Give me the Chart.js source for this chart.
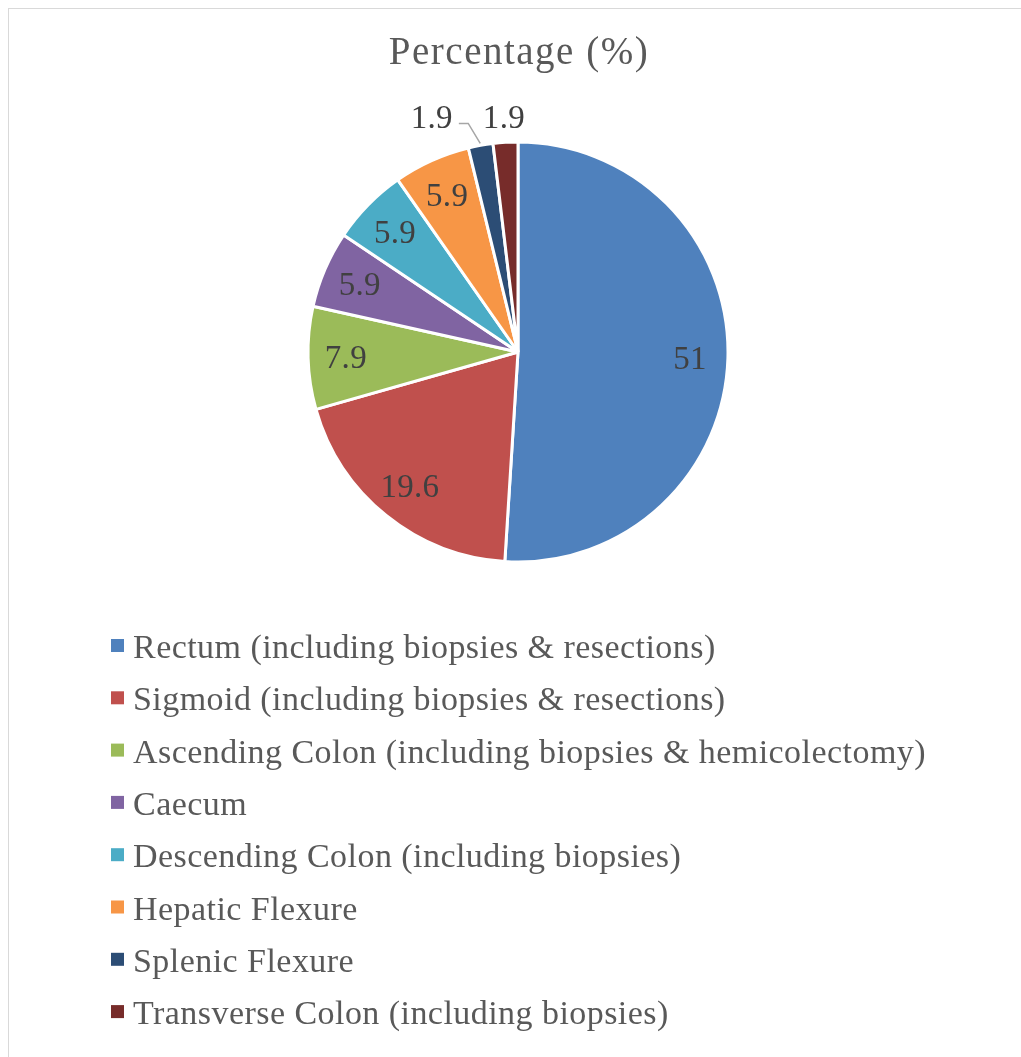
<!DOCTYPE html>
<html>
<head>
<meta charset="utf-8">
<title>Percentage (%)</title>
<script src="https://cdn.jsdelivr.net/npm/chart.js@4.4.1/dist/chart.umd.min.js"></script>
<style>
  html, body { margin: 0; padding: 0; background: #fff; }
  #wrap { position: relative; width: 1021px; height: 1057px; overflow: hidden; }
  #frame { position: absolute; left: 8px; top: 8px; width: 1100px; height: 1100px;
           border: 1.5px solid #d9d9d9; box-sizing: border-box; }
  #pie { position: absolute; left: 0; top: 0; }
</style>
</head>
<body>
<div id="wrap">
  <div id="frame"></div>
  <canvas id="pie" width="1021" height="1057"></canvas>
</div>
<script>
  // site of lesion, share of cases
  var sites = [
    'Rectum (including biopsies & resections)',
    'Sigmoid (including biopsies & resections)',
    'Ascending Colon (including biopsies & hemicolectomy)',
    'Caecum',
    'Descending Colon (including biopsies)',
    'Hepatic Flexure',
    'Splenic Flexure',
    'Transverse Colon (including biopsies)'
  ];
  var percents = [51, 19.6, 7.9, 5.9, 5.9, 5.9, 1.9, 1.9];
  var sliceColors = ['#4f81bd', '#c0504d', '#9bbb59', '#8064a2', '#4bacc6', '#f79646', '#2c4d75', '#772c2a'];

  var serif = "'Liberation Serif', 'Times New Roman', serif";
  var textGrey = '#595959';
  var labelGrey = '#404040';

  function spaced(ctx, px) {
    if ('letterSpacing' in ctx) ctx.letterSpacing = px + 'px';
  }

  // title, value labels and the legend list are drawn by hand
  var decorations = {
    id: 'decorations',
    afterDatasetsDraw: function(chart) {
      var ctx = chart.ctx;
      var meta = chart.getDatasetMeta(0);
      var ds = chart.data.datasets[0];

      ctx.save();
      ctx.textBaseline = 'alphabetic';
      ctx.fillStyle = textGrey;
      ctx.font = '39px ' + serif;
      spaced(ctx, 1.5);
      ctx.textAlign = 'center';
      ctx.fillText('Percentage (%)', 519, 64);

      // value labels: inside for normal slices, outside for thin ones
      var fs = 33;
      ctx.font = fs + 'px ' + serif;
      spaced(ctx, 0.3);
      ctx.fillStyle = labelGrey;
      var placed = [];
      for (var i = meta.data.length - 1; i >= 0; i--) {
        var arc = meta.data[i];
        var mid = (arc.startAngle + arc.endAngle) / 2;
        var txt = String(ds.data[i]);
        var w = ctx.measureText(txt).width;
        var frac = (arc.endAngle - arc.startAngle) / (Math.PI * 2);
        if (frac > 0.03) {
          var rr = arc.outerRadius * 0.82;
          ctx.fillText(txt, arc.x + Math.cos(mid) * rr, arc.y + Math.sin(mid) * rr + fs * 0.34);
          continue;
        }
        var ro = arc.outerRadius + 26;
        var lx = arc.x + Math.cos(mid) * ro;
        var ly = arc.y + Math.sin(mid) * ro;
        var moved = false;
        placed.forEach(function(p) {
          if (lx + w / 2 > p.x - p.w / 2 - 30 && Math.abs(ly - p.y) < 30) {
            lx = p.x - p.w / 2 - 30 - w / 2;
            ly = p.y;
            moved = true;
          }
        });
        if (moved) {
          var ex = arc.x + Math.cos(mid) * (arc.outerRadius + 2);
          var ey = arc.y + Math.sin(mid) * (arc.outerRadius + 2);
          ctx.strokeStyle = '#a6a6a6';
          ctx.lineWidth = 1.5;
          ctx.beginPath();
          ctx.moveTo(ex, ey);
          ctx.lineTo(ex - 12, ly + 7);
          ctx.lineTo(lx + w / 2 + 6, ly + 7);
          ctx.stroke();
        }
        ctx.fillText(txt, lx, ly + fs * 0.34);
        placed.push({ x: lx, y: ly, w: w });
      }

      // legend, one entry per line
      ctx.textAlign = 'left';
      ctx.font = '34px ' + serif;
      spaced(ctx, 0.45);
      for (var k = 0; k < chart.data.labels.length; k++) {
        var base = 658 + k * 52.3;
        ctx.fillStyle = ds.backgroundColor[k];
        ctx.fillRect(111, base - 19, 13, 13);
        ctx.fillStyle = textGrey;
        ctx.fillText(chart.data.labels[k], 133, base);
      }
      ctx.restore();
    }
  };

  var config = {
    type: 'pie',
    data: {
      labels: sites,
      datasets: [{
        data: percents,
        backgroundColor: sliceColors,
        borderColor: '#ffffff',
        borderWidth: 3,
        radius: 210
      }]
    },
    options: {
      responsive: false,
      animation: false,
      layout: { padding: { left: 308, right: 293, top: 142, bottom: 495 } },
      plugins: {
        legend: { display: false },
        tooltip: { enabled: false },
        title: { display: false }
      }
    },
    plugins: [decorations]
  };

  new Chart(document.getElementById('pie'), config);
</script>
</body>
</html>
